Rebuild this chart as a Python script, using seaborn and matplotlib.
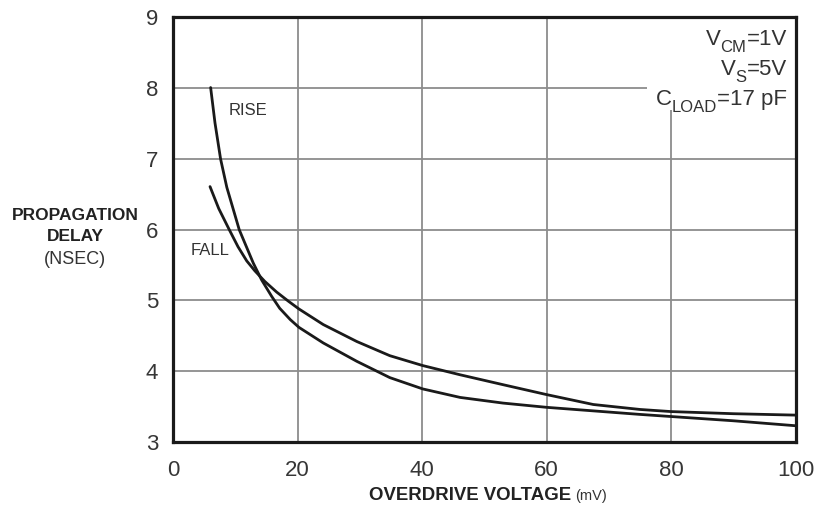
import matplotlib
matplotlib.use("Agg")
import matplotlib.pyplot as plt
from matplotlib.patches import Rectangle
import seaborn as sns
import pandas as pd

# ---- data ----
rise_x = [6.0, 6.7, 7.6, 8.6, 10.6, 12.85, 14.2, 15.8, 17.1, 18.8, 20.2, 24.1,
          29.5, 34.8, 40.1, 46.1, 53.0, 60.0, 67.5, 75.0, 80.0, 90.0, 100.0]
rise_y = [8.01, 7.51, 7.00, 6.60, 6.00, 5.53, 5.29, 5.06, 4.89, 4.73, 4.62, 4.40,
          4.14, 3.91, 3.75, 3.63, 3.55, 3.49, 3.44, 3.39, 3.36, 3.30, 3.23]

fall_x = [5.9, 7.3, 9.0, 10.4, 11.8, 13.1, 14.7, 16.6, 18.5, 20.2, 24.1, 29.5,
          34.8, 40.1, 46.1, 53.0, 60.0, 67.5, 75.0, 80.0, 90.0, 100.0]
fall_y = [6.61, 6.30, 6.00, 5.76, 5.56, 5.42, 5.27, 5.12, 4.99, 4.88, 4.66, 4.42,
          4.22, 4.08, 3.95, 3.81, 3.67, 3.53, 3.46, 3.43, 3.40, 3.38]

x_ticks = [0, 20, 40, 60, 80, 100]
y_ticks = [3, 4, 5, 6, 7, 8, 9]

sns.set_style("white")
plt.rcParams['font.family'] = ['Liberation Sans', 'DejaVu Sans']

fig = plt.figure(figsize=(8.22, 5.11), dpi=100)
ax = fig.add_axes([173.3 / 822, 1 - 442 / 511, (795.5 - 173.3) / 822, (442 - 17.5) / 511])

df_rise = pd.DataFrame({"x": rise_x, "y": rise_y})
df_fall = pd.DataFrame({"x": fall_x, "y": fall_y})
sns.lineplot(data=df_rise, x="x", y="y", ax=ax, color="#1a1a1a", lw=2.0, zorder=4)
sns.lineplot(data=df_fall, x="x", y="y", ax=ax, color="#1a1a1a", lw=2.0, zorder=4)
for ln in ax.lines:
    ln.set_solid_joinstyle("round")

ax.set_xlim(0, 100)
ax.set_ylim(3, 9)
ax.set_xticks(x_ticks)
ax.set_yticks(y_ticks)
ax.set_xticklabels([str(t) for t in x_ticks])
ax.set_yticklabels([str(t) for t in y_ticks])
ax.tick_params(axis='both', length=0, labelsize=16, labelcolor="#363636")
ax.tick_params(axis='x', pad=13)
ax.tick_params(axis='y', pad=11)
ax.set_xlabel("")
ax.set_ylabel("")

ax.grid(True, color="#8c8c8c", lw=1.3, zorder=1)
ax.set_axisbelow(True)
for s in ax.spines.values():
    s.set_color("#1a1a1a")
    s.set_linewidth(2.3)
    s.set_zorder(5)

# white box behind the condition text
ax.add_patch(Rectangle((76.1, 7.69), 23.9, 1.31, facecolor="white",
                       edgecolor="none", zorder=2))

ax.text(12.08, 7.68, "RISE", ha="center", va="center", fontsize=12, color="#333333", zorder=6)
ax.text(5.9, 5.71, "FALL", ha="center", va="center", fontsize=12, color="#333333", zorder=6)

# y label
fig.text(75 / 822, 1 - 215 / 511, "PROPAGATION", ha="center", va="center",
         fontsize=12.5, fontweight="bold", color="#222222")
fig.text(75 / 822, 1 - 236.5 / 511, "DELAY", ha="center", va="center",
         fontsize=12.5, fontweight="bold", color="#222222")
fig.text(75 / 822, 1 - 259.5 / 511, "(NSEC)", ha="center", va="center",
         fontsize=13, color="#333333")

# x label
xl = fig.text(369 / 822, 1 - 500 / 511, "OVERDRIVE VOLTAGE", ha="left", va="baseline",
              fontsize=13.4, fontweight="bold", color="#222222")

fig.canvas.draw()
renderer = fig.canvas.get_renderer()
bb = xl.get_window_extent(renderer)
fig.text((bb.x1 + 4) / 822, 1 - 500 / 511, "(mV)", ha="left", va="baseline",
         fontsize=10.5, color="#333333")

# condition text with lowered subscripts (built right-to-left, in pixels)
def cond(y_base_px, main, sub, tail, x_right_px=787):
    kw = dict(va="baseline", color="#333333", zorder=6)
    yb = 1 - y_base_px / 511
    t_tail = fig.text(x_right_px / 822, yb, tail, ha="right", fontsize=16, **kw)
    fig.canvas.draw()
    b = t_tail.get_window_extent(renderer)
    ys = 1 - (y_base_px + 7) / 511
    t_sub = fig.text((b.x0 - 0.5) / 822, ys, sub, ha="right", fontsize=12, **kw)
    fig.canvas.draw()
    b2 = t_sub.get_window_extent(renderer)
    fig.text((b2.x0 + 0.5) / 822, yb, main, ha="right", fontsize=16, **kw)

cond(45, "V", "CM", "=1V")
cond(75, "V", "S", "=5V")
cond(105, "C", "LOAD", "=17 pF")

fig.savefig("out.png", dpi=100)
